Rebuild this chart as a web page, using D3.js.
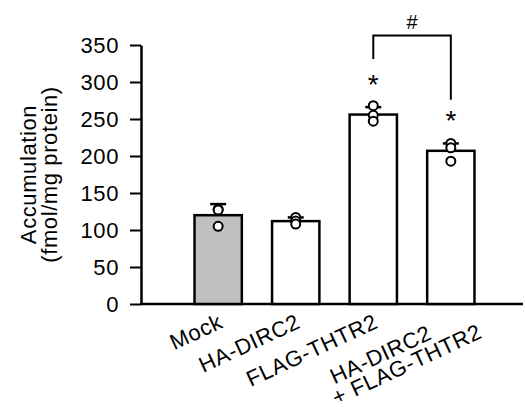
<!DOCTYPE html>
<html>
<head>
<meta charset="utf-8">
<script src="https://cdn.jsdelivr.net/npm/d3@7"></script>
<style>
  body { margin: 0; background: #fff; }
  text { font-family: "Liberation Sans", Arial, sans-serif; fill: #000; }
</style>
</head>
<body>
<script>
// group names and measured values
const groups = ["Mock", "HA-DIRC2", "FLAG-THTR2", "HA-DIRC2 + FLAG-THTR2"];
const means = [120, 112, 256, 207];
const errors = [15, 5, 10, 10];
const points = [[128, 105, 127], [117, 112, 108], [268, 255, 247], [217, 211, 193]];
const fills = ["#c0c0c0", "#ffffff", "#ffffff", "#ffffff"];
const yTicks = [0, 50, 100, 150, 200, 250, 300, 350];
const marked = [2, 3];           // bars with *
const bracket = [2, 3, 363, 331, 276]; // from, to, top, left foot, right foot (data units)

const width = 525, height = 407;

const svg = d3.select("body").append("svg")
    .attr("width", width)
    .attr("height", height);

const x = d3.scaleBand()
    .domain(groups)
    .range([141, 528])
    .paddingInner(0.39)
    .paddingOuter(0.69);

const y = d3.scaleLinear()
    .domain([0, 350])
    .range([304, 45]);

// y axis
const yAxis = svg.append("g")
    .attr("transform", "translate(141,0)")
    .call(d3.axisLeft(y).tickValues(yTicks).tickSize(11).tickPadding(11).tickSizeOuter(0));
yAxis.select(".domain").attr("stroke-width", 2.5);
yAxis.selectAll(".tick line").attr("stroke-width", 2);
yAxis.selectAll(".tick text")
    .style("font-size", "22px")
    .style("letter-spacing", "0.6px")
    .attr("dy", "0.36em");

// x axis line
svg.append("line")
    .attr("x1", 140).attr("x2", 523)
    .attr("y1", y(0)).attr("y2", y(0))
    .attr("stroke", "#000")
    .attr("stroke-width", 2.5);

// y title
const title = svg.append("text")
    .attr("transform", `translate(0,${(y(0) + y(350)) / 2}) rotate(-90)`)
    .attr("text-anchor", "middle")
    .style("font-size", "22px")
    .style("letter-spacing", "0.6px");
title.append("tspan").attr("x", 0).attr("y", 36).text("Accumulation");
title.append("tspan").attr("x", 0).attr("y", 57).text("(fmol/mg protein)");

// bars
svg.selectAll(".bar")
    .data(groups)
    .enter().append("rect")
    .attr("class", "bar")
    .attr("x", d => x(d))
    .attr("width", x.bandwidth())
    .attr("y", (d, i) => y(means[i]))
    .attr("height", (d, i) => y(0) - y(means[i]))
    .attr("fill", (d, i) => fills[i])
    .attr("stroke", "#000")
    .attr("stroke-width", 2.5);

// error bars (upper only)
const cx = d => x(d) + x.bandwidth() / 2;
const err = svg.selectAll(".err")
    .data(groups)
    .enter().append("g")
    .attr("class", "err");
err.append("line")
    .attr("x1", cx).attr("x2", cx)
    .attr("y1", (d, i) => y(means[i]))
    .attr("y2", (d, i) => y(means[i] + errors[i]))
    .attr("stroke", "#000").attr("stroke-width", 2);
err.append("line")
    .attr("x1", d => cx(d) - 8).attr("x2", d => cx(d) + 8)
    .attr("y1", (d, i) => y(means[i] + errors[i]))
    .attr("y2", (d, i) => y(means[i] + errors[i]))
    .attr("stroke", "#000").attr("stroke-width", 2.5);

// data points
const pts = [];
groups.forEach((g, i) => points[i].forEach(v => pts.push({ g, v })));
svg.selectAll(".pt")
    .data(pts)
    .enter().append("circle")
    .attr("class", "pt")
    .attr("cx", d => cx(d.g))
    .attr("cy", d => y(d.v))
    .attr("r", 4.5)
    .attr("fill", "#fff")
    .attr("stroke", "#000")
    .attr("stroke-width", 2);

// asterisks
svg.selectAll(".star")
    .data(marked)
    .enter().append("text")
    .attr("class", "star")
    .attr("x", i => cx(groups[i]))
    .attr("y", i => y(means[i] + errors[i]) - 13)
    .attr("text-anchor", "middle")
    .style("font-size", "28px")
    .text("*");

// significance bracket
const bx1 = cx(groups[bracket[0]]), bx2 = cx(groups[bracket[1]]);
svg.append("path")
    .attr("d", `M${bx1},${y(bracket[3])}V${y(bracket[2])}H${bx2}V${y(bracket[4])}`)
    .attr("fill", "none")
    .attr("stroke", "#000")
    .attr("stroke-width", 2);
svg.append("text")
    .attr("x", (bx1 + bx2) / 2)
    .attr("y", y(bracket[2]) - 6)
    .attr("text-anchor", "middle")
    .style("font-size", "20px")
    .text("#");

// x labels, rotated
const xl = svg.selectAll(".xlab")
    .data(groups)
    .enter().append("text")
    .attr("class", "xlab")
    .attr("text-anchor", "end")
    .style("font-size", "22px")
    .style("letter-spacing", "0.6px")
    .attr("transform", d => d.includes(" + ")
        ? `translate(${cx(d) + 24},${y(0) + 15}) rotate(-25)`
        : `translate(${cx(d) + 6},${y(0) + 23}) rotate(-25)`);
xl.each(function(d) {
    const t = d3.select(this);
    if (d.includes(" + ")) {
        const parts = d.split(" + ");
        t.append("tspan").attr("x", -46).attr("y", 0).text(parts[0]);
        t.append("tspan").attr("x", 0).attr("y", 20).text("+ " + parts[1]);
    } else {
        t.text(d);
    }
});
</script>
</body>
</html>
